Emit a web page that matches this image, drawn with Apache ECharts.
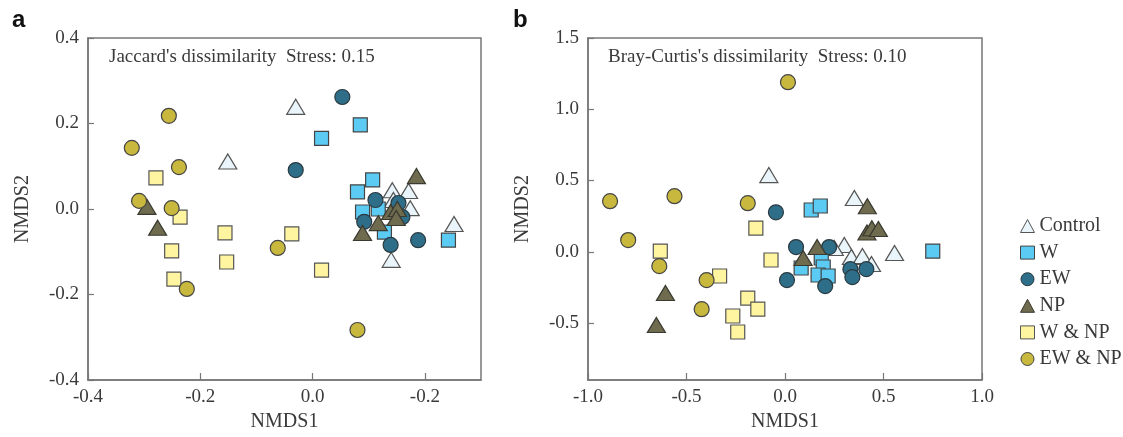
<!DOCTYPE html>
<html>
<head>
<meta charset="utf-8">
<script src="https://cdn.jsdelivr.net/npm/echarts@6/dist/echarts.min.js"></script>
<style>
html,body{margin:0;padding:0;background:#fff;}
#chart{width:1123px;height:437px;}
</style>
</head>
<body>
<div id="chart"></div>
<script>
// ---------- data ----------
const groups = ['Control', 'W', 'EW', 'NP', 'W & NP', 'EW & NP'];

// Panel a: Jaccard NMDS  [NMDS1, NMDS2]
const jacControl = [[-0.030,0.239],[-0.151,0.111],[0.142,0.044],[0.171,0.042],[0.144,0.021],[0.174,0.002],[0.252,-0.035],[0.140,-0.119]];
const jacW       = [[0.016,0.165],[0.085,0.197],[0.107,0.068],[0.080,0.040],[0.089,-0.007],[0.117,0.000],[0.128,-0.054],[0.242,-0.073]];
const jacEW      = [[0.053,0.262],[-0.030,0.091],[0.112,0.021],[0.153,0.014],[0.160,-0.019],[0.092,-0.030],[0.139,-0.084],[0.188,-0.073]];
const jacNP      = [[-0.295,0.005],[-0.276,-0.044],[0.185,0.077],[0.139,-0.007],[0.151,0.000],[0.149,-0.021],[0.117,-0.033],[0.089,-0.056]];
const jacWNP     = [[-0.279,0.073],[-0.236,-0.019],[-0.156,-0.056],[-0.037,-0.058],[-0.251,-0.098],[-0.153,-0.124],[-0.247,-0.164],[0.016,-0.143]];
const jacEWNP    = [[-0.256,0.218],[-0.322,0.143],[-0.238,0.098],[-0.309,0.019],[-0.251,0.002],[-0.062,-0.091],[-0.224,-0.187],[0.080,-0.283]];

// Panel b: Bray-Curtis NMDS
const bcControl = [[-0.082,0.538],[0.352,0.377],[0.301,0.047],[0.337,-0.037],[0.393,-0.030],[0.439,-0.086],[0.556,-0.009],[0.250,0.026]];
const bcW       = [[0.133,0.293],[0.179,0.321],[0.750,0.005],[0.082,-0.114],[0.184,-0.044],[0.194,-0.107],[0.168,-0.163],[0.219,-0.170]];
const bcEW      = [[-0.046,0.277],[0.056,0.033],[0.224,0.033],[0.010,-0.199],[0.204,-0.241],[0.332,-0.122],[0.342,-0.178],[0.413,-0.122]];
const bcNP      = [[0.418,0.319],[0.416,0.135],[0.441,0.165],[0.474,0.160],[0.163,0.033],[0.092,-0.044],[-0.607,-0.290],[-0.653,-0.514]];
const bcWNP     = [[-0.633,0.005],[-0.148,0.166],[-0.071,-0.058],[-0.332,-0.170],[-0.189,-0.325],[-0.138,-0.403],[-0.265,-0.451],[-0.240,-0.563]];
const bcEWNP    = [[0.015,1.190],[-0.888,0.355],[-0.561,0.390],[-0.189,0.341],[-0.796,0.082],[-0.638,-0.101],[-0.398,-0.199],[-0.423,-0.403]];

// tick values and labels
const aXTicks = [-0.4, -0.2, 0, 0.2];
const aXTickLabels = ['-0.4', '-0.2', '0.0', '-0.2'];
const aYTicks = [-0.4, -0.2, 0, 0.2, 0.4];
const bXTicks = [-1.0, -0.5, 0, 0.5, 1.0];
const bYTicks = [-0.5, 0, 0.5, 1.0, 1.5];

const aNote = "Jaccard's dissimilarity  Stress: 0.15";
const bNote = "Bray-Curtis's dissimilarity  Stress: 0.10";

// ---------- styles ----------
const styles = {
  'Control': {symbol:'triangle', size:[18,15], color:'#eaf5fb', border:'#555'},
  'W':       {symbol:'rect',     size:14,      color:'#5ccbf3', border:'#444'},
  'EW':      {symbol:'circle',   size:15,      color:'#2f6e89', border:'#2a3a40'},
  'NP':      {symbol:'triangle', size:[18,15], color:'#6f6b4f', border:'#3a3a30'},
  'W & NP':  {symbol:'rect',     size:14,      color:'#fff4a0', border:'#555'},
  'EW & NP': {symbol:'circle',   size:15,      color:'#c8b83d', border:'#444'}
};
const jacData = [jacControl, jacW, jacEW, jacNP, jacWNP, jacEWNP];
const bcData  = [bcControl, bcW, bcEW, bcNP, bcWNP, bcEWNP];

const serif = 'Liberation Serif';
const txt = '#3a3a3a';
const axisCol = '#777';

function fmt1(v){ return (Math.abs(v) < 1e-9 ? 0 : v).toFixed(1); }

function mkX(idx, min, max, ticks, labels){
  return {
    gridIndex: idx, type:'value', min:min, max:max,
    name:'NMDS1', nameLocation:'middle', nameGap:26,
    nameTextStyle:{fontFamily:serif, fontSize:20, color:txt},
    axisLine:{show:true, onZero:false, lineStyle:{color:axisCol, width:1.5}},
    axisTick:{show:true, inside:true, length:7, customValues:ticks, lineStyle:{color:axisCol, width:1.2}},
    axisLabel:{customValues:ticks, margin:8, fontFamily:serif, fontSize:19, color:txt,
      formatter: function(v){ const i = ticks.findIndex(t => Math.abs(t-v) < 1e-9); return labels ? labels[i] : fmt1(v); }},
    splitLine:{show:false}
  };
}
function mkY(idx, min, max, ticks){
  return {
    gridIndex: idx, type:'value', min:min, max:max,
    name:'NMDS2', nameLocation:'middle', nameGap:55,
    nameTextStyle:{fontFamily:serif, fontSize:20, color:txt},
    axisLine:{show:true, onZero:false, lineStyle:{color:axisCol, width:1.5}},
    axisTick:{show:true, inside:true, length:6, customValues:ticks, lineStyle:{color:axisCol, width:1.2}},
    axisLabel:{customValues:ticks, margin:9, fontFamily:serif, fontSize:19, color:txt, formatter: fmt1},
    splitLine:{show:false}
  };
}

const series = [];
[jacData, bcData].forEach(function(set, gi){
  groups.forEach(function(g, k){
    const s = styles[g];
    series.push({
      name: g, type:'scatter', xAxisIndex: gi, yAxisIndex: gi,
      data: set[k], symbol: s.symbol, symbolSize: s.size,
      itemStyle:{color:s.color, borderColor:s.border, borderWidth:1.2, opacity:1},
      emphasis:{disabled:true}
    });
  });
});

const option = {
  animation:false,
  backgroundColor:'#fff',
  grid:[
    {left:88, top:38, width:393, height:342, show:true, borderColor:axisCol, borderWidth:1.5, backgroundColor:'transparent'},
    {left:588, top:38, width:394, height:342, show:true, borderColor:axisCol, borderWidth:1.5, backgroundColor:'transparent'}
  ],
  xAxis:[ mkX(0, -0.4, 0.3, aXTicks, aXTickLabels), mkX(1, -1.0, 1.0, bXTicks, null) ],
  yAxis:[ mkY(0, -0.4, 0.4, aYTicks), mkY(1, -0.9, 1.5, bYTicks) ],
  legend:{
    orient:'vertical', left:1015, top:211,
    itemWidth:14, itemHeight:13, itemGap:6.6,
    itemStyle:{borderWidth:1},
    textStyle:{fontFamily:serif, fontSize:20, color:txt},
    data: groups
  },
  graphic:[
    {type:'text', left:12, top:8, style:{text:'a', font:'bold 24px "Liberation Sans"', fill:'#111'}},
    {type:'text', left:513, top:8, style:{text:'b', font:'bold 24px "Liberation Sans"', fill:'#111'}},
    {type:'text', left:109, top:48, style:{text:aNote, font:'19px "Liberation Serif"', fill:txt}},
    {type:'text', left:608, top:48, style:{text:bNote, font:'19px "Liberation Serif"', fill:txt}}
  ],
  series: series
};

const chart = echarts.init(document.getElementById('chart'), null, {renderer:'canvas'});
chart.setOption(option);
</script>
</body>
</html>
